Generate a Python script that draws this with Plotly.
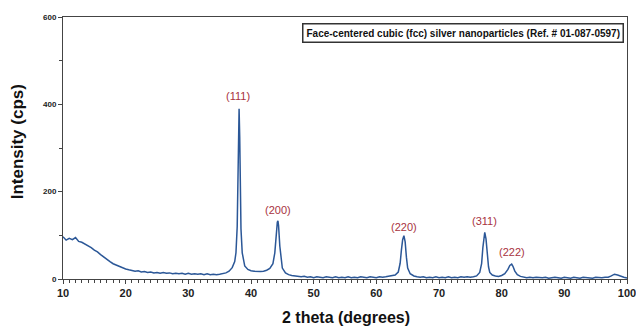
import plotly.graph_objects as go

# 2 theta (degrees) and intensity (cps)
two_theta = [
    10.0, 10.5, 11.0, 11.5, 12.0, 12.5, 13.0, 13.5, 14.0, 14.5, 15.0, 15.5, 16.0, 16.5,
    17.0, 17.5, 18.0, 18.5, 19.0, 19.5, 20.0, 20.5, 21.0, 21.5, 22.0, 22.5, 23.0, 23.5,
    24.0, 24.5, 25.0, 25.5, 26.0, 26.5, 27.0, 27.5, 28.0, 28.5, 29.0, 29.5, 30.0, 30.5,
    31.0, 31.5, 32.0, 32.5, 33.0, 33.5, 34.0, 34.5, 35.0, 35.5, 36.0, 36.5, 37.0, 37.4,
    37.6, 37.8, 37.9, 38.0, 38.1, 38.2, 38.3, 38.4, 38.6, 38.8, 39.0, 39.5, 40.0, 40.5,
    41.0, 41.5, 42.0, 42.5, 43.0, 43.5, 43.8, 44.0, 44.2, 44.3, 44.4, 44.6, 44.8, 45.0,
    45.5, 46.0, 46.5, 47.0, 47.5, 48.0, 48.5, 49.0, 49.5, 50.0, 50.5, 51.0, 51.5, 52.0,
    52.5, 53.0, 53.5, 54.0, 54.5, 55.0, 55.5, 56.0, 56.5, 57.0, 57.5, 58.0, 58.5, 59.0,
    59.5, 60.0, 60.5, 61.0, 61.5, 62.0, 62.5, 63.0, 63.5, 63.8, 64.0, 64.2, 64.4, 64.6,
    64.8, 65.0, 65.4, 66.0, 66.5, 67.0, 67.5, 68.0, 68.5, 69.0, 69.5, 70.0, 70.5, 71.0,
    71.5, 72.0, 72.5, 73.0, 73.5, 74.0, 74.5, 75.0, 75.5, 76.0, 76.5, 76.8, 77.0, 77.2,
    77.3, 77.5, 77.7, 77.9, 78.1, 78.5, 79.0, 79.5, 80.0, 80.5, 81.0, 81.3, 81.6, 81.8,
    82.1, 82.5, 83.0, 83.5, 84.0, 84.5, 85.0, 85.5, 86.0, 86.5, 87.0, 87.5, 88.0, 88.5,
    89.0, 89.5, 90.0, 90.5, 91.0, 91.5, 92.0, 92.5, 93.0, 93.5, 94.0, 94.5, 95.0, 95.5,
    96.0, 96.5, 97.0, 97.5, 98.0, 98.5, 99.0, 99.5, 100.0,
]
intensity = [
    97, 89, 93, 90, 95, 86, 84, 80, 77, 72, 66, 62, 56, 50,
    45, 40, 35, 32, 28, 26, 23, 21, 20, 18, 19, 16, 17, 15,
    16, 14, 15, 13, 15, 13, 14, 12, 13, 12, 13, 11, 13, 11,
    12, 11, 12, 10, 12, 10, 11, 10, 11, 12, 14, 18, 26, 40,
    60, 120, 235, 335, 390, 325, 225, 115, 60, 40, 30, 22, 19, 18,
    17, 17, 18, 20, 24, 35, 60, 100, 130, 133, 122, 75, 40, 25,
    14, 10, 8, 7, 6, 5, 6, 4, 5, 3, 5, 4, 3, 5,
    4, 3, 5, 3, 4, 3, 5, 3, 4, 3, 5, 4, 3, 5,
    4, 3, 5, 4, 5, 6, 7, 9, 16, 36, 66, 90, 99, 85,
    50, 25, 12, 7, 5, 4, 5, 3, 4, 3, 5, 3, 4, 3,
    5, 3, 4, 3, 5, 4, 5, 4, 5, 7, 15, 35, 72, 100,
    107, 92, 55, 28, 15, 9, 7, 6, 8, 12, 22, 31, 34, 29,
    18, 10, 6, 4, 3, 4, 3, 4, 3, 3, 4, 2, 3, 4,
    3, 2, 4, 3, 2, 4, 3, 2, 4, 3, 3, 2, 4, 3,
    3, 4, 4, 7, 11, 9, 6, 4, 2,
]

peak_labels = ["(111)", "(200)", "(220)", "(311)", "(222)"]
peak_label_x = [37.9, 44.25, 64.4, 77.2, 81.65]
peak_label_y = [418, 157, 120, 132, 62]

legend_text = "Face-centered cubic (fcc) silver nanoparticles (Ref. # 01-087-0597)"

fig = go.Figure()
fig.add_trace(go.Scatter(
    x=two_theta, y=intensity, mode="lines",
    line=dict(color="#2b5797", width=1.5),
    showlegend=False, hoverinfo="skip",
))

for t, x, y in zip(peak_labels, peak_label_x, peak_label_y):
    fig.add_annotation(x=x, y=y, text=t, showarrow=False,
                       font=dict(family="Arial, Liberation Sans", size=11, color="#a8323e"))

fig.add_annotation(xref="paper", yref="paper", x=0.9945, y=0.978,
                   xanchor="right", yanchor="top", showarrow=False,
                   text="<b>" + legend_text + "</b>",
                   font=dict(family="Arial, Liberation Sans", size=10, color="#111111"),
                   bordercolor="#333333", borderwidth=1.5, borderpad=3,
                   bgcolor="white")

fig.add_annotation(xref="paper", yref="paper", x=0.502, y=-0.105,
                   xanchor="center", yanchor="top", showarrow=False,
                   text="<b>2 theta (degrees)</b>",
                   font=dict(family="Arial, Liberation Sans", size=16, color="#111111"))
fig.add_annotation(xref="paper", yref="paper", x=-0.08, y=0.525,
                   xanchor="center", yanchor="middle", showarrow=False, textangle=-90,
                   text="<b>Intensity (cps)</b>",
                   font=dict(family="Arial, Liberation Sans", size=17, color="#111111"))

fig.update_layout(
    width=636, height=327,
    margin=dict(l=63, r=9, t=17, b=48, autoexpand=False),
    paper_bgcolor="white", plot_bgcolor="white",
    font=dict(family="Arial, Liberation Sans"),
)
fig.update_xaxes(
    range=[10, 100], dtick=10, tick0=10,
    showgrid=False, zeroline=False, automargin=False,
    showline=True, linecolor="#444444", linewidth=1, mirror=True,
    ticks="outside", ticklen=4, tickcolor="#444444",
    minor=dict(dtick=1, ticks="outside", ticklen=3, tickcolor="#444444", showgrid=False),
    tickfont=dict(size=11, color="#222222"),
    tickprefix="<b>", ticksuffix="</b>",
    ticklabeloverflow="allow",
)
fig.update_yaxes(
    range=[0, 600], dtick=200,
    showgrid=False, zeroline=False, automargin=False,
    showline=True, linecolor="#444444", linewidth=1, mirror=True,
    ticks="outside", ticklen=4, tickcolor="#444444",
    minor=dict(dtick=100, ticks="outside", ticklen=3, tickcolor="#444444", showgrid=False),
    tickfont=dict(size=8, color="#222222"),
    tickprefix="<b>", ticksuffix="</b>",
)

fig.write_html("out.html")
